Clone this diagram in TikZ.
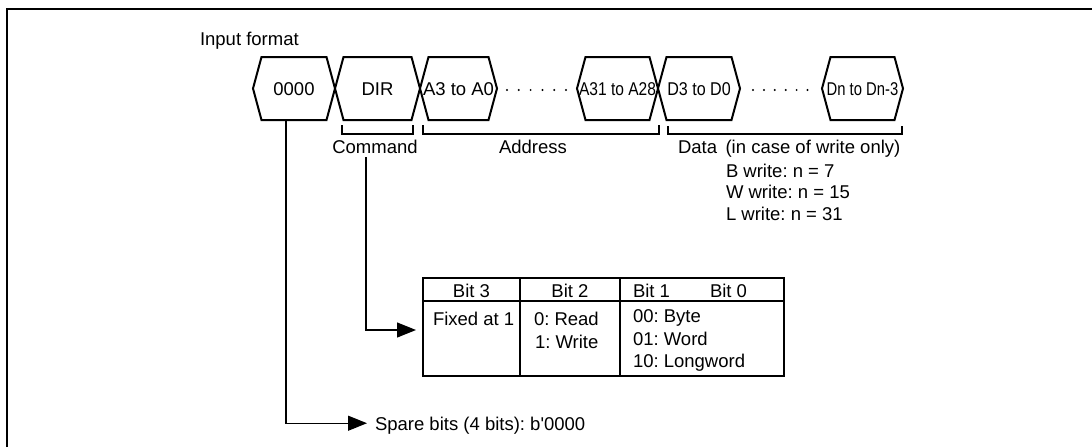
\documentclass[tikz,border=0pt]{standalone}
\usepackage{fontspec}
\setmainfont{Liberation Sans}
\usetikzlibrary{arrows.meta}
\frenchspacing
\begin{document}
\begin{tikzpicture}[x=1pt,y=-1pt,
  txt/.style={font=\fontsize{18.5}{22}\selectfont\frenchspacing, inner sep=0pt, outer sep=0pt},
  hexbox/.style={txt, minimum height=63pt, text height=13.2pt, text depth=0pt, anchor=center},
  hexline/.style={line width=2pt, line join=miter},
  conn/.style={line width=1.2pt},
  arr/.style={conn, -{Triangle[length=19pt,width=15pt]}},
  brk/.style={line width=1.2pt},
  tblline/.style={line width=1.3pt},
]
\useasboundingbox (0,0) rectangle (1092,447);
\draw[line width=2.7pt] (7,447) -- (7,9) -- (1092,9);

\node[txt, anchor=base west] (title) at (200,45) {Input format};

\node[hexbox, minimum width=82pt] (h1) at (294,88.5) {0000};
\node[hexbox, minimum width=85pt] (h2) at (377.5,88.5) {DIR};
\node[hexbox, minimum width=77pt] (h3) at (458.5,88.5) {A3 to A0};
\node[hexbox, minimum width=81pt] (h4) at (617.5,88.5) {\scalebox{0.84}[1]{A31 to A28}};
\node[hexbox, minimum width=82pt] (h5) at (699,88.5) {\scalebox{0.87}[1]{D3 to D0}};
\node[hexbox, minimum width=81pt] (h6) at (862.5,88.5) {\scalebox{0.8}[1]{Dn to Dn-3}};

\foreach \n in {h1,h2,h3,h4,h5,h6}
  \draw[hexline] (\n.west) -- ([xshift=8.5pt]\n.north west) -- ([xshift=-8.5pt]\n.north east)
    -- (\n.east) -- ([xshift=-8.5pt]\n.south east) -- ([xshift=8.5pt]\n.south west) -- cycle;

\foreach \i in {0,...,5} \fill (507+11.8*\i,90) circle (1.1pt);
\foreach \i in {0,...,5} \fill (753+10.9*\i,90) circle (1.1pt);

\draw[brk] (342,125) -- (342,134) -- (413,134) -- (413,125);
\draw[brk] (423,125) -- (423,134) -- (659,134) -- (659,125);
\draw[brk] (668,126) -- (668,134) -- (902,134) -- (902,126);

\node[txt, anchor=base] (cmd) at (375,153) {Command};
\node[txt, anchor=base] (addr) at (533,153) {Address};
\node[txt, anchor=base west] (data) at (678,153) {Data\hspace{8.5pt}(in case of write only)};
\node[txt, anchor=base west] (bw) at (726,177) {B write: n = 7};
\node[txt, anchor=base west] (ww) at (726,198.5) {W write: n = 15};
\node[txt, anchor=base west] (lw) at (726,220) {L write: n = 31};

\node[draw, tblline, minimum width=361pt, minimum height=98pt, inner sep=0pt, outer sep=0pt, anchor=north west] (tbl) at (423,278) {};
\draw[tblline] (423,301) -- (784,301);
\draw[tblline] (520,278) -- (520,376);
\draw[tblline] (620,278) -- (620,376);

\node[txt, anchor=base] (b3) at (471.5,297) {Bit 3};
\node[txt, anchor=base] (b2) at (570,297) {Bit 2};
\node[txt, anchor=base west] (b1) at (633,297) {Bit 1};
\node[txt, anchor=base west] (b0) at (710,297) {Bit 0};
\node[txt, anchor=base west] (fx) at (433,325) {Fixed at 1};
\node[txt, anchor=base west] (rd) at (534,325) {0: Read};
\node[txt, anchor=base west] (wr) at (535,348) {1: Write};
\node[txt, anchor=base west] (by) at (633,322) {00: Byte};
\node[txt, anchor=base west] (wd) at (633,345) {01: Word};
\node[txt, anchor=base west] (lg) at (633,367) {10: Longword};

\node[txt, anchor=base west] (spare) at (375,430) {Spare bits (4 bits): b\textquotesingle 0000};

\draw[arr] ([xshift=-9pt,yshift=-4pt]cmd.base) |- ([xshift=-7pt,yshift=-3pt]tbl.west);
\draw[arr] ([xshift=-8pt]h1.south) |- ([xshift=-8pt,yshift=2pt]spare.west);
\end{tikzpicture}
\end{document}
